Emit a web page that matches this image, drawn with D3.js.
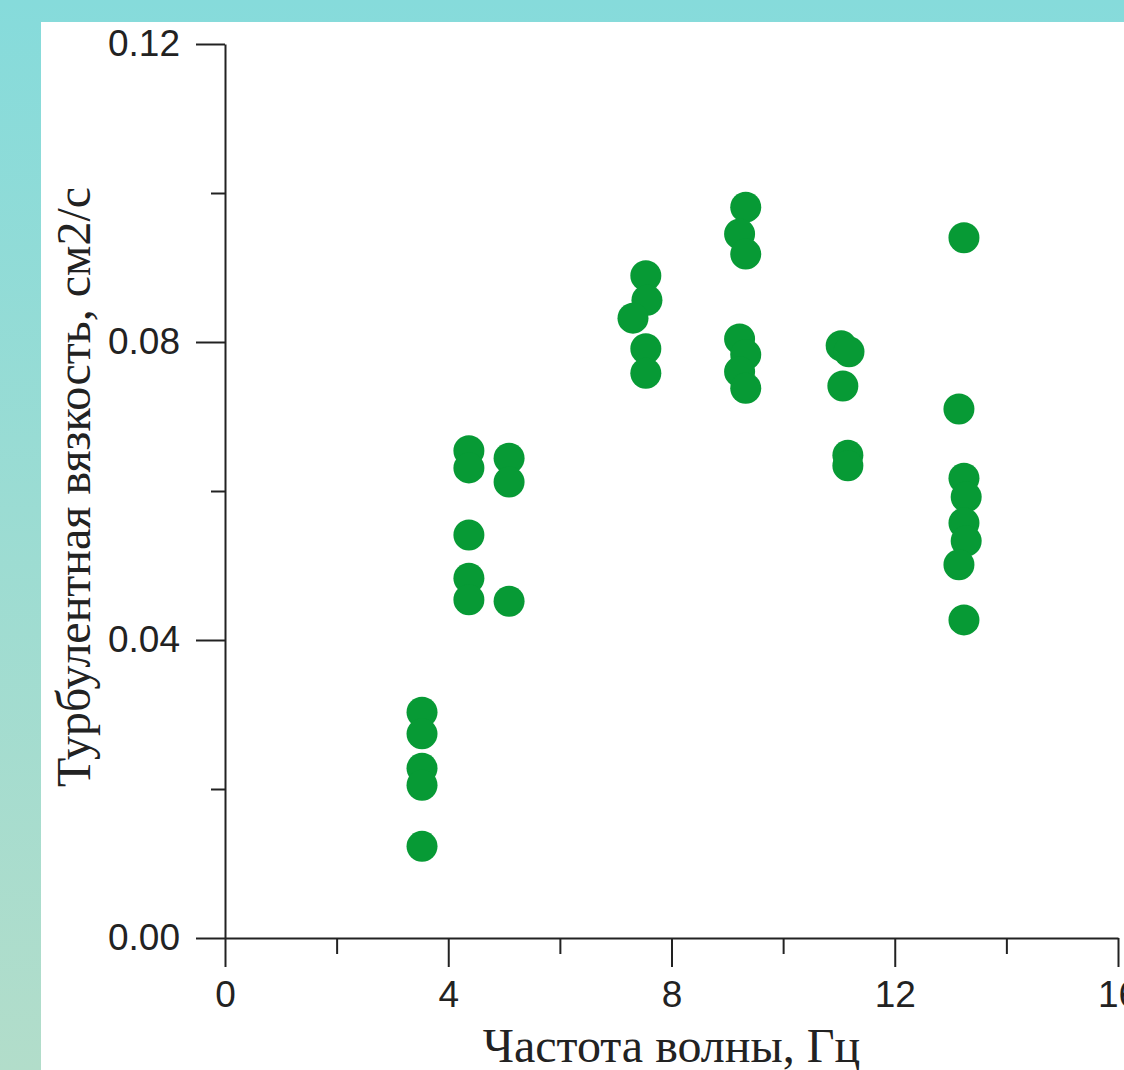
<!DOCTYPE html>
<html><head><meta charset="utf-8">
<script src="https://cdn.jsdelivr.net/npm/d3@7"></script>
<style>html,body{margin:0;padding:0;overflow:hidden;background:#fff}</style>
</head><body>
<script>
// Data
const freq = [3.53,3.53,3.53,3.53,3.53,
  4.37,4.37,4.37,4.37,4.37,
  5.09,5.09,5.09,
  7.54,7.56,7.31,7.54,7.54,
  9.33,9.22,9.33,9.22,9.33,9.22,9.33,
  11.04,11.18,11.07,11.16,11.16,
  13.24,13.15,13.24,13.28,13.24,13.28,13.15,13.24];
const visc = [0.0303,0.0274,0.0228,0.0205,0.0123,
  0.0654,0.0631,0.0541,0.0483,0.0454,
  0.0644,0.0612,0.0452,
  0.0889,0.0856,0.0832,0.0791,0.0758,
  0.0981,0.0945,0.0918,0.0804,0.0783,0.0760,0.0738,
  0.0795,0.0787,0.0741,0.0648,0.0634,
  0.0940,0.0710,0.0617,0.0592,0.0557,0.0533,0.0501,0.0427];
const xMajor = [0,4,8,12,16];
const xMinor = [2,6,10,14];
const yMajor = [0,0.04,0.08,0.12];
const yMinor = [0.02,0.06,0.10];
const xTitle = "Частота волны, Гц";
const yTitle = "Турбулентная вязкость, см2/с";

const W = 1124, H = 1070;
const svg = d3.select("body").append("svg").attr("width", W).attr("height", H);
const defs = svg.append("defs");
const g = defs.append("linearGradient").attr("id","bg").attr("x1",0).attr("y1",0).attr("x2",0).attr("y2",1);
g.append("stop").attr("offset","0%").attr("stop-color","#86dbdb");
g.append("stop").attr("offset","100%").attr("stop-color","#b2ddca");
svg.append("rect").attr("width",W).attr("height",H).attr("fill","url(#bg)");
svg.append("rect").attr("x",41).attr("y",22).attr("width",W-41).attr("height",H-22).attr("fill","#fff");

const x = d3.scaleLinear().domain([0,16]).range([225,1118]);
const y = d3.scaleLinear().domain([0,0.12]).range([938,44]);

const tickFont = "'Liberation Sans', Arial, sans-serif";
const axColor = "#222";

function styleAxis(sel){
  sel.selectAll("path,line").attr("stroke",axColor).attr("stroke-width",2);
  sel.selectAll("text").attr("fill",axColor).style("font-family",tickFont).style("font-size","37px");
}

// Y axis
const yAx = svg.append("g").attr("transform","translate(225,0)")
  .call(d3.axisLeft(y).tickValues(yMajor).tickSize(29).tickSizeOuter(0).tickPadding(16).tickFormat(d3.format(".2f")));
styleAxis(yAx);
const yAxMin = svg.append("g").attr("transform","translate(225,0)")
  .call(d3.axisLeft(y).tickValues(yMinor).tickSize(14).tickSizeOuter(0).tickFormat(""));
styleAxis(yAxMin);
yAxMin.select("path").remove();

// X axis
const xAx = svg.append("g").attr("transform","translate(0,938)")
  .call(d3.axisBottom(x).tickValues(xMajor).tickSize(29).tickSizeOuter(0).tickPadding(14).tickFormat(d3.format("d")));
styleAxis(xAx);
const xAxMin = svg.append("g").attr("transform","translate(0,938)")
  .call(d3.axisBottom(x).tickValues(xMinor).tickSize(16).tickSizeOuter(0).tickFormat(""));
styleAxis(xAxMin);
xAxMin.select("path").remove();

// Points
svg.append("g").selectAll("circle").data(freq.map((f,i)=>({f, v: visc[i]})))
  .join("circle")
  .attr("cx", d => x(d.f)).attr("cy", d => y(d.v)).attr("r", 15.5)
  .attr("fill", "#079a35");

// Titles
const serif = "'Liberation Serif', 'Times New Roman', serif";
svg.append("text").attr("x", x(8)).attr("y", 1062).attr("text-anchor","middle")
  .style("font-family",serif).style("font-size","48px").attr("fill","#222").text(xTitle);
svg.append("text").attr("transform","translate(90,"+((44+938)/2 - 4)+") rotate(-90)").attr("text-anchor","middle")
  .style("font-family",serif).style("font-size","48px").attr("fill","#222").text(yTitle);
</script>
</body></html>
